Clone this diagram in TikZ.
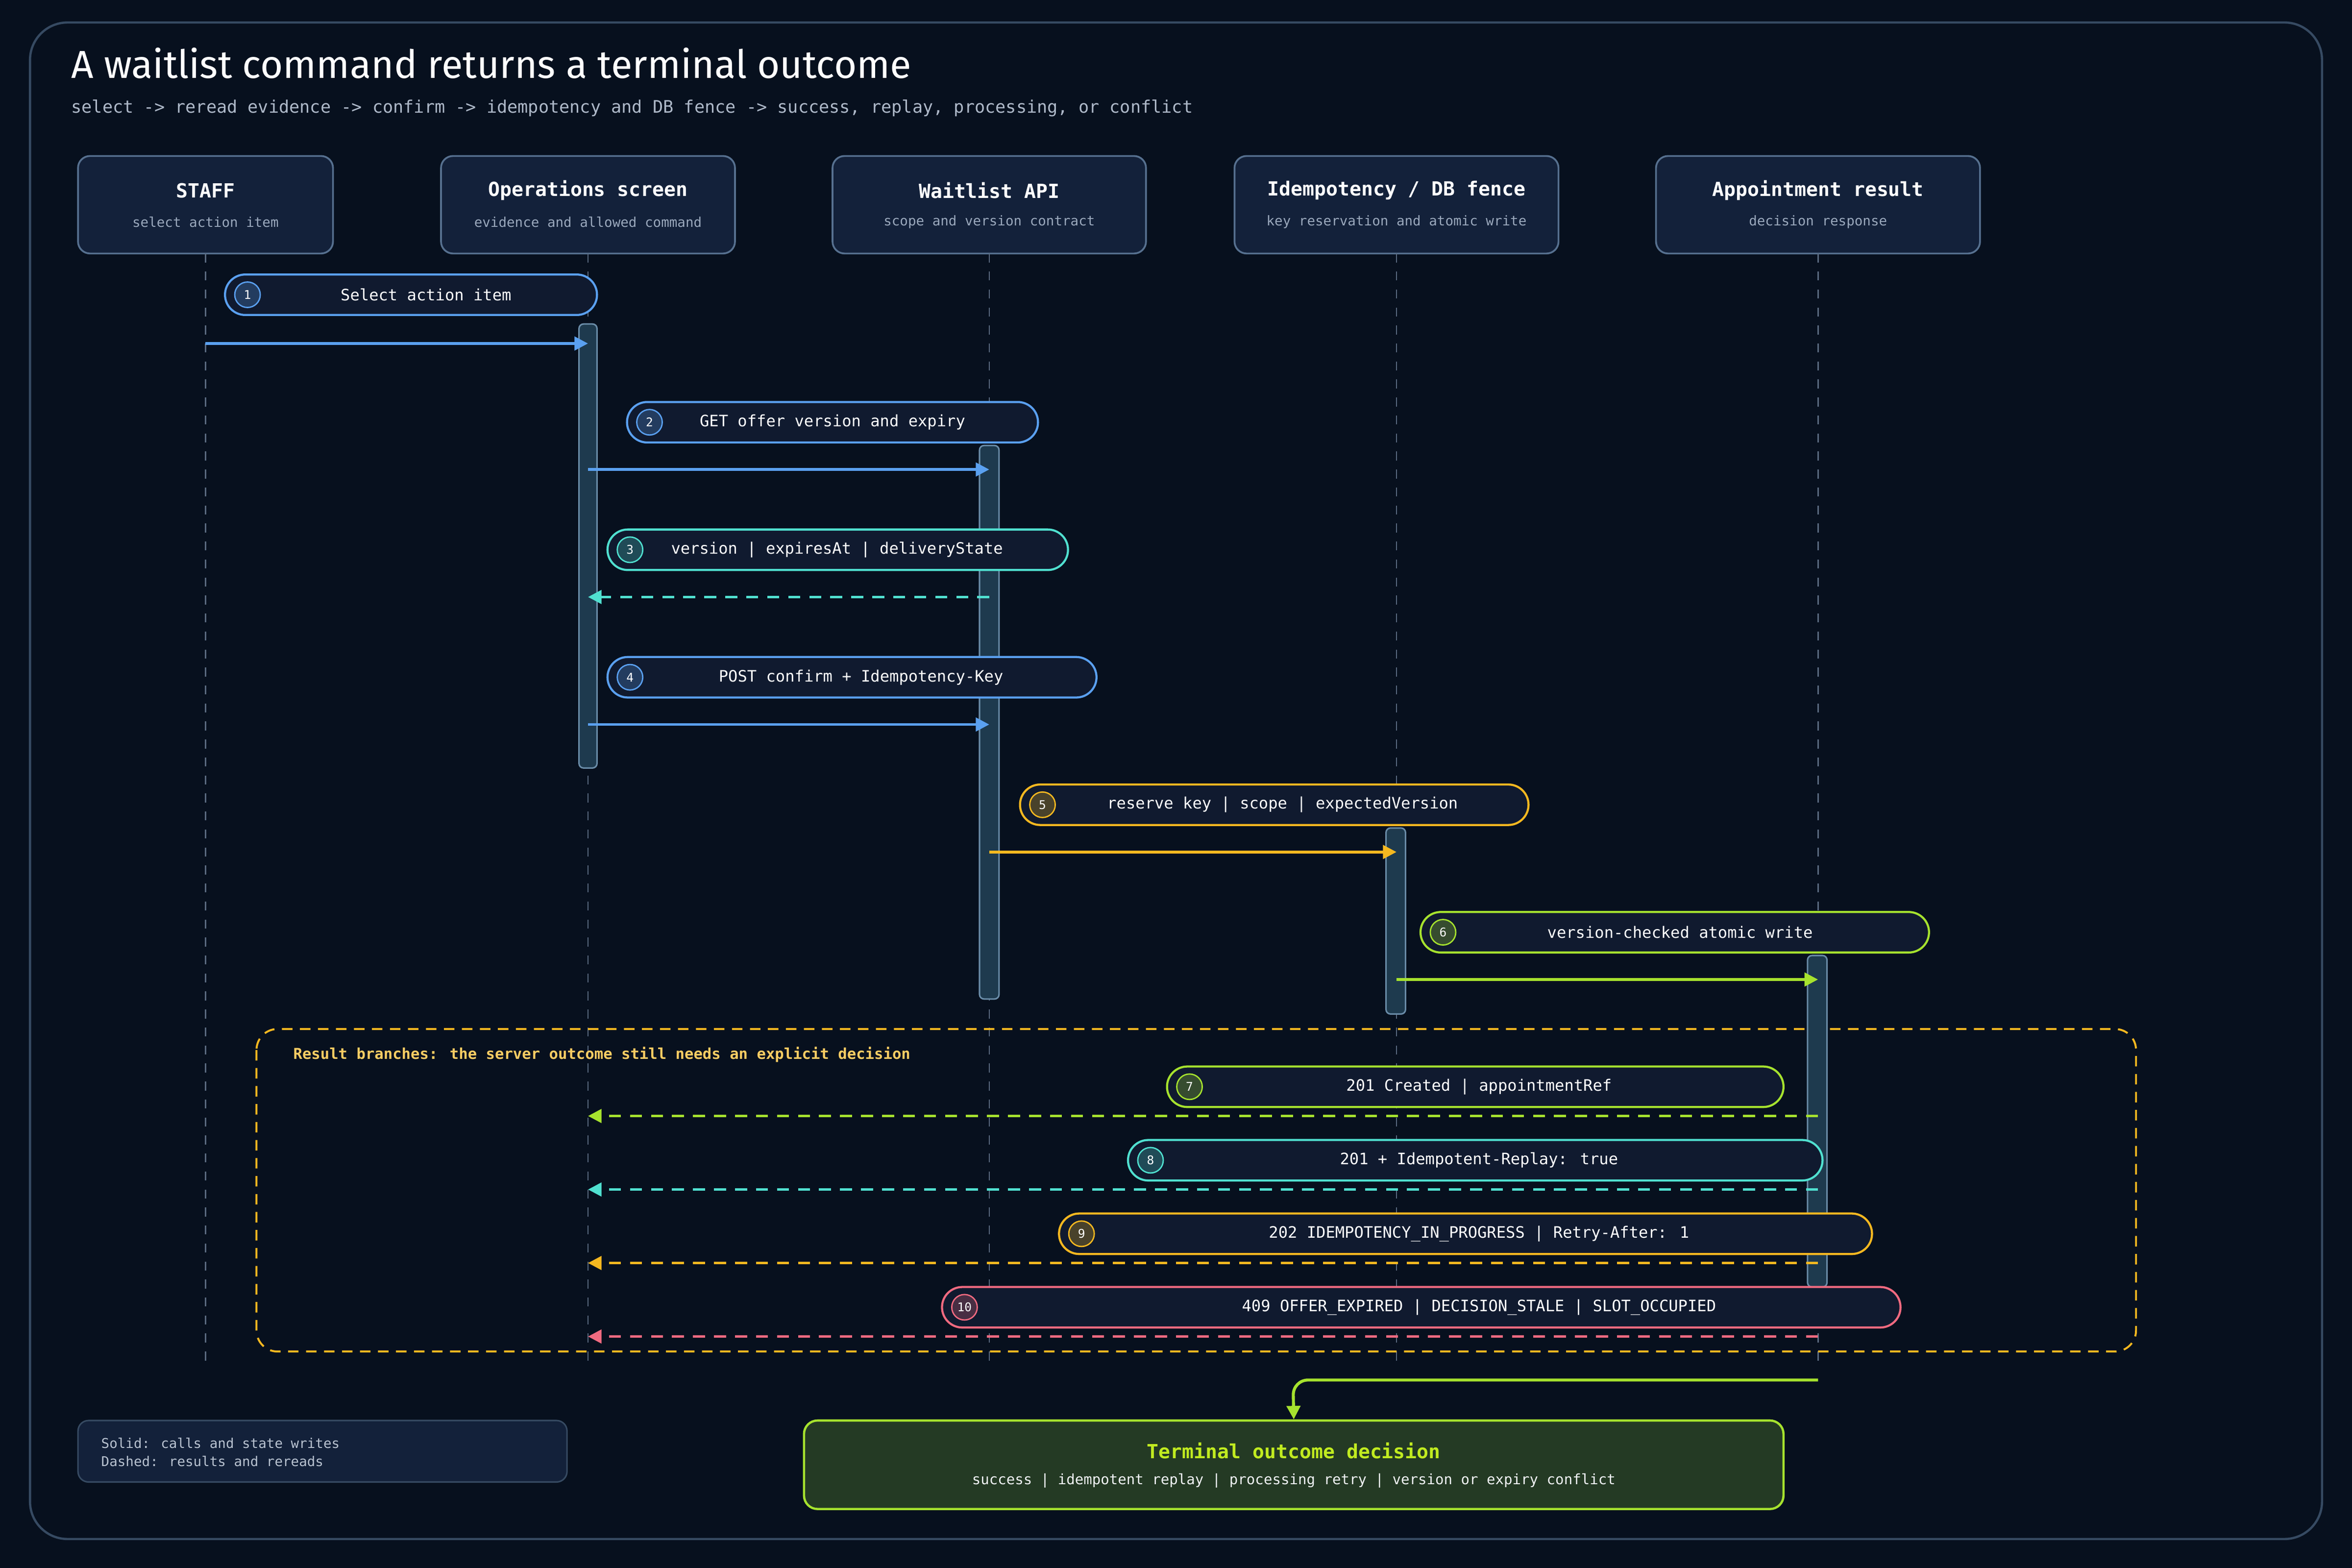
\documentclass[tikz,border=0pt]{standalone}
\usepackage{fontspec}
\setmainfont{DejaVu Sans Mono}
\newfontfamily\titlefont{Fira Sans}
\usetikzlibrary{arrows.meta,calc}
\definecolor{bg}{HTML}{07101E}
\definecolor{boxf}{HTML}{13213A}
\definecolor{boxd}{HTML}{56708F}
\definecolor{pillf}{HTML}{101A2F}
\definecolor{cblue}{HTML}{5AA0F0}
\definecolor{cteal}{HTML}{50E0D0}
\definecolor{camber}{HTML}{F5B820}
\definecolor{clime}{HTML}{A6E22E}
\definecolor{cred}{HTML}{F06A80}
\definecolor{actf}{HTML}{1E3A4E}
\definecolor{actd}{HTML}{6A8CA8}
\definecolor{subt}{HTML}{9AA8BC}
\definecolor{lifel}{HTML}{5A6A80}
\definecolor{termf}{HTML}{243A24}
\newcommand{\myfs}[1]{\fontsize{#1}{#1}\selectfont}
\tikzset{
 x=1pt,y=-1pt,
 actor/.style={draw=boxd,fill=boxf,line width=1.2pt,rounded corners=8pt},
 life/.style={draw=lifel,line width=0.9pt,dash pattern=on 6pt off 6pt},
 act/.style={draw=actd,fill=actf,line width=1pt,rounded corners=3pt},
 pill/.style={fill=pillf,line width=1.4pt,rounded corners=13.5pt},
 call/.style={line width=1.8pt,-{Triangle[length=9pt,width=9pt]}},
 ret/.style={line width=1.8pt,dash pattern=on 8pt off 6pt,-{Triangle[length=9pt,width=9pt]}},
}
\newcommand{\myactor}[6]{% name x1 x2 title sub bottom
 \path[actor] (#2,104) rectangle (#3,169);
 \node[text=white,font=\myfs{13}\bfseries] (#1) at ({(#2+#3)/2},127) {#4};
 \node[text=subt,font=\myfs{9}] (#1s) at ({(#2+#3)/2},148) {#5};
 \coordinate (#1top) at ({(#2+#3)/2},169);
 \coordinate (#1bot) at ({(#2+#3)/2},#6);
 \draw[life] (#1top) -- (#1bot);
}
\newcommand{\mypill}[8]{% name x1 x2 ytop color num textx text
 \path[pill,draw=#5] (#2,#4) rectangle (#3,#4+27);
 \node[circle,draw=#5,fill=#5!25!pillf,line width=0.9pt,minimum size=17pt,inner sep=0pt,text=white,font=\myfs{8}] (#1n) at (#2+15,#4+13.5) {#6};
 \node[text=white,font=\myfs{10.5}] (#1) at (#7,#4+13.5) {#8};
}
\begin{document}
\begin{tikzpicture}
\useasboundingbox (0,0) rectangle (1568,1045.33);
\fill[bg] (0,0) rectangle (1568,1045.33);
\draw[draw=boxd!60!bg,line width=1.5pt,rounded corners=25pt] (20,15) rectangle (1548,1026);
\node[anchor=west,text=white,font=\titlefont\myfs{26}] (title) at (44,42) {A waitlist command returns a terminal outcome};
\node[anchor=west,text=subt!80!white,font=\myfs{11.5}] (subtitle) at (44,72) {select -> reread evidence -> confirm -> idempotency and DB fence -> success, replay, processing, or conflict};

\myactor{staff}{52}{222}{STAFF}{select action item}{908}
\myactor{ops}{294}{490}{Operations screen}{evidence and allowed command}{908}
\myactor{api}{555}{764}{Waitlist API}{scope and version contract}{908}
\myactor{idem}{823}{1039}{Idempotency / DB fence}{key reservation and atomic write}{908}
\myactor{appt}{1104}{1320}{Appointment result}{decision response}{908}

% frame
\draw[camber,line width=1.3pt,dash pattern=on 7pt off 5pt,rounded corners=14pt] (171,686) rectangle (1424,901);
\node[anchor=west,text=camber!70!white,font=\myfs{10}\bfseries] (frlab) at (192,703) {Result branches: the server outcome still needs an explicit decision};

% activations
\path[act] (386,216) rectangle (398,512);
\path[act] (653,297) rectangle (666,666);
\path[act] (924,552) rectangle (937,676);
\path[act] (1205,637) rectangle (1218,858);

\mypill{m1}{150}{398}{183}{cblue}{1}{284}{Select action item}
\draw[call,cblue] (staff|-0,229) -- (ops|-0,229);
\mypill{m2}{418}{692}{268}{cblue}{2}{555}{GET offer version and expiry}
\draw[call,cblue] (ops|-0,313) -- (api|-0,313);
\mypill{m3}{405}{712}{353}{cteal}{3}{558}{version | expiresAt | deliveryState}
\draw[ret,cteal] (api|-0,398) -- (ops|-0,398);
\mypill{m4}{405}{731}{438}{cblue}{4}{574}{POST confirm + Idempotency-Key}
\draw[call,cblue] (ops|-0,483) -- (api|-0,483);
\mypill{m5}{680}{1019}{523}{camber}{5}{855}{reserve key | scope | expectedVersion}
\draw[call,camber] (api|-0,568) -- (idem|-0,568);
\mypill{m6}{947}{1286}{608}{clime}{6}{1120}{version-checked atomic write}
\draw[call,clime] (idem|-0,653) -- (appt|-0,653);

\mypill{m7}{778}{1189}{711}{clime}{7}{986}{201 Created | appointmentRef}
\draw[ret,clime] (appt|-0,744) -- (ops|-0,744);
\mypill{m8}{752}{1215}{760}{cteal}{8}{986}{201 + Idempotent-Replay: true}
\draw[ret,cteal] (appt|-0,793) -- (ops|-0,793);
\mypill{m9}{706}{1248}{809}{camber}{9}{986}{202 IDEMPOTENCY\_IN\_PROGRESS | Retry-After: 1}
\draw[ret,camber] (appt|-0,842) -- (ops|-0,842);
\mypill{m10}{628}{1267}{858}{cred}{10}{986}{409 OFFER\_EXPIRED | DECISION\_STALE | SLOT\_OCCUPIED}
\draw[ret,cred] (appt|-0,891) -- (ops|-0,891);

% terminal
\node[draw=clime,fill=termf,line width=1.5pt,rounded corners=9pt,minimum width=653pt,minimum height=59pt] (term) at (862.5,976.5) {};
\node[text=clime!70!yellow,font=\myfs{13}\bfseries] (termt) at (862.5,967) {Terminal outcome decision};
\node[text=white!85!subt,font=\myfs{9.5}] (terms) at (862.5,987) {success | idempotent replay | processing retry | version or expiry conflict};
\coordinate (tstart) at (1212,920);
\draw[clime,line width=2pt,rounded corners=10pt,-{Triangle[length=9pt,width=9pt]}] (tstart) -- (862,920) -- (term.north);

% legend
\node[draw=boxd!60!bg,fill=boxf,line width=1pt,rounded corners=7pt,minimum width=326pt,minimum height=41pt] (legend) at (215,967.5) {};
\node[anchor=west,text=subt!70!white,font=\myfs{9},align=left] (legt) at (64,968) {Solid: calls and state writes\\[3pt]Dashed: results and rereads};
\end{tikzpicture}
\end{document}
